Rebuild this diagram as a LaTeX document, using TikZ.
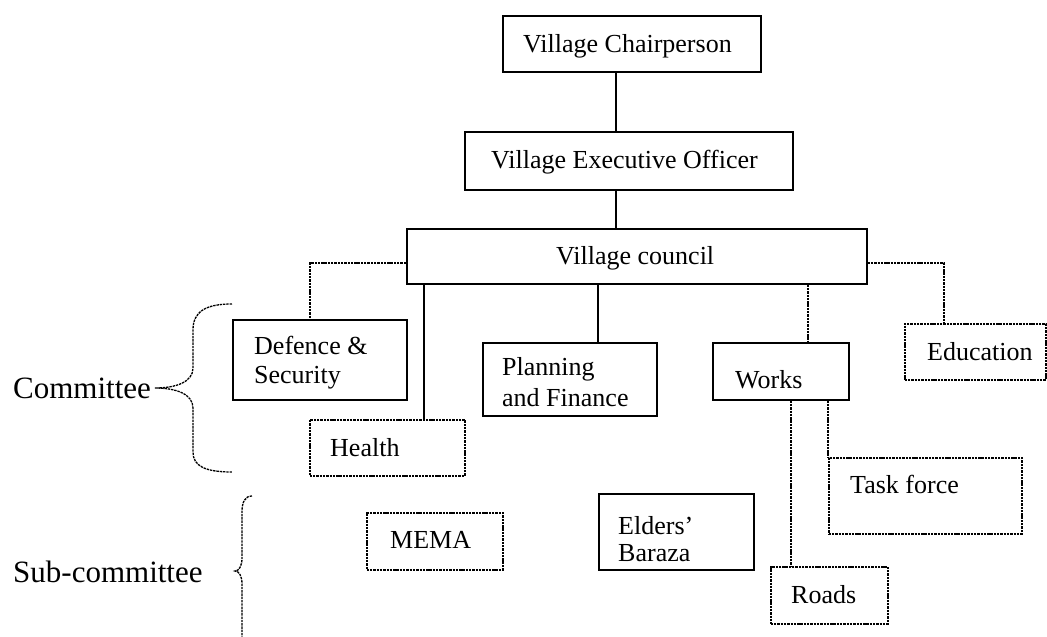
\documentclass[tikz,border=0pt]{standalone}
\usepackage{fontspec}
\setmainfont{Liberation Serif}
\begin{document}
\begin{tikzpicture}[x=1pt,y=-1pt,
  box/.style={draw, line width=1.6pt, inner sep=0pt, anchor=north west},
  dbox/.style={box, line width=1.5pt, dash pattern=on 2.4pt off 0.9pt},
  txt/.style={inner sep=0pt, anchor=base west, font=\fontsize{26}{30}\selectfont},
  bigtxt/.style={inner sep=0pt, anchor=base west, font=\fontsize{31}{36}\selectfont},
  link/.style={line width=1.6pt},
  dlink/.style={line width=1.5pt, dash pattern=on 2.4pt off 0.9pt},
  bracket/.style={line width=1.3pt, dash pattern=on 2.4pt off 0.9pt}]
\path[use as bounding box] (0,0) rectangle (1047,637);
\clip (0,0) rectangle (1047,637);

% boxes
\node[box,  minimum width=258, minimum height=56] (chair)   at (502,15)  {};
\node[box,  minimum width=328, minimum height=58] (veo)     at (464,131) {};
\node[box,  minimum width=460, minimum height=55] (council) at (406,228) {};
\node[box,  minimum width=174, minimum height=80] (def)     at (232,319) {};
\node[dbox, minimum width=155, minimum height=56] (health)  at (309,419) {};
\node[box,  minimum width=174, minimum height=73] (plan)    at (482,342) {};
\node[box,  minimum width=136, minimum height=57] (works)   at (712,342) {};
\node[dbox, minimum width=141, minimum height=56] (edu)     at (904,323) {};
\node[dbox, minimum width=193, minimum height=76] (task)    at (828,457) {};
\node[dbox, minimum width=136, minimum height=57] (mema)    at (366,512) {};
\node[box,  minimum width=155, minimum height=76] (elders)  at (598,493) {};
\node[dbox, minimum width=117, minimum height=57] (roads)   at (770,566) {};

% box labels
\node[txt] (chairT)   at (523,52)  {Village Chairperson};
\node[txt] (veoT)     at (491,168) {Village Executive Officer};
\node[txt] (councilT) at (556,264) {Village council};
\node[txt] (defT)     at (254,354) {Defence \&};
\node[txt] (defT2)    at (254,383) {Security};
\node[txt] (healthT)  at (330,456) {Health};
\node[txt] (planT)    at (502,375) {Planning};
\node[txt] (planT2)   at (502,406) {and Finance};
\node[txt] (worksT)   at (735,388) {Works};
\node[txt] (eduT)     at (927,360) {Education};
\node[txt] (taskT)    at (850,493) {Task force};
\node[txt] (memaT)    at (390,548) {MEMA};
\node[txt] (eldersT)  at (618,534) {Elders’};
\node[txt] (eldersT2) at (618,561) {Baraza};
\node[txt] (roadsT)   at (791,603) {Roads};

% side labels
\node[bigtxt] (comT) at (13,398) {Committee};
\node[bigtxt] (subT) at (13,582) {Sub-committee};

% connector positions
\coordinate (xtop)    at (616,0);
\coordinate (xdef)    at (310,0);
\coordinate (xhealth) at (424,0);
\coordinate (xplan)   at (598,0);
\coordinate (xworks)  at (808,0);
\coordinate (xedu)    at (944,0);
\coordinate (xroads)  at (791,0);
\coordinate (xtask)   at (828,0);
\coordinate (ymid)    at (0,263);

% connectors
\draw[link]  (chair.south -| xtop) -- (veo.north -| xtop);
\draw[link]  (veo.south -| xtop) -- (council.north -| xtop);
\draw[dlink] (council.west |- ymid) -| (def.north -| xdef);
\draw[link]  (council.south -| xhealth) -- (health.north -| xhealth);
\draw[link]  (council.south -| xplan) -- (plan.north -| xplan);
\draw[dlink] (council.south -| xworks) -- (works.north -| xworks);
\draw[dlink] (council.east |- ymid) -| (edu.north -| xedu);
\draw[dlink] (works.south -| xroads) -- (roads.north -| xroads);
\draw[dlink] (works.south -| xtask) -- (task.north -| xtask);

% braces
\draw[bracket] (232,304) .. controls (205,304) and (193,312) .. (193,330)
  -- (193,368) .. controls (193,382) and (176,388) .. (155,388)
  .. controls (176,388) and (193,394) .. (193,408)
  -- (193,452) .. controls (193,466) and (205,472) .. (232,472);
\draw[bracket] (252,496) .. controls (245,496) and (242,502) .. (242,512)
  -- (242,558) .. controls (242,566) and (239,571) .. (235,571)
  .. controls (239,571) and (242,576) .. (242,584) -- (242,650);
\end{tikzpicture}
\end{document}
